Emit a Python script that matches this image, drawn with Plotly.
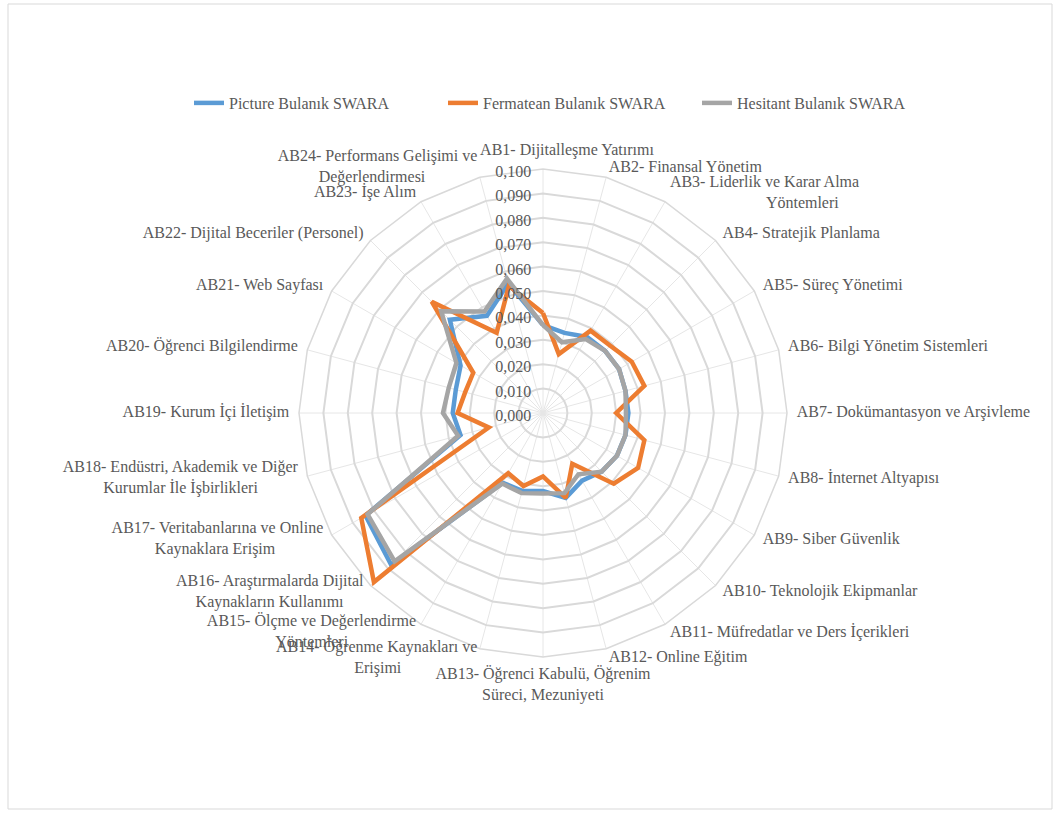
import math
import plotly.graph_objects as go

NB = "\u00a0"

categories = [f"AB{i}" for i in range(1, 25)]
labels = [
    NB * 12 + "AB1- Dijitalleşme Yatırımı",
    "AB2- Finansal Yönetim",
    "AB3- Liderlik ve Karar Alma<br>" + NB * 24 + "Yöntemleri",
    "AB4- Stratejik Planlama",
    "AB5- Süreç Yönetimi",
    "AB6- Bilgi Yönetim Sistemleri",
    "AB7- Dokümantasyon ve Arşivleme",
    "AB8- İnternet Altyapısı",
    "AB9- Siber Güvenlik",
    "AB10- Teknolojik Ekipmanlar",
    "AB11- Müfredatlar ve Ders İçerikleri",
    "AB12- Online Eğitim",
    "AB13- Öğrenci Kabulü, Öğrenim<br>Süreci, Mezuniyeti",
    "AB14- Öğrenme Kaynakları ve<br>Erişimi" + NB * 19,
    "AB15- Ölçme ve Değerlendirme<br>Yöntemleri" + NB * 17,
    "AB16- Araştırmalarda Dijital<br>Kaynakların Kullanımı" + NB * 5,
    "AB17- Veritabanlarına ve Online<br>Kaynaklara Erişim" + NB * 12,
    "AB18- Endüstri, Akademik ve Diğer<br>Kurumlar İle İşbirlikleri" + NB * 10,
    "AB19- Kurum İçi İletişim",
    "AB20- Öğrenci Bilgilendirme",
    "AB21- Web Sayfası",
    "AB22- Dijital Beceriler (Personel)",
    "AB23- İşe Alım",
    "AB24- Performans Gelişimi ve<br>Değerlendirmesi" + NB * 13,
]

picture = [0.036, 0.034, 0.036, 0.036, 0.036, 0.035, 0.035, 0.035, 0.035, 0.034, 0.032, 0.036,
           0.032, 0.033, 0.033, 0.088, 0.084, 0.035, 0.037, 0.037, 0.039, 0.054, 0.046, 0.055]
fermatean = [0.041, 0.025, 0.039, 0.039, 0.042, 0.043, 0.030, 0.043, 0.045, 0.041, 0.024, 0.036,
             0.026, 0.031, 0.0285, 0.098, 0.086, 0.023, 0.035, 0.033, 0.033, 0.0645, 0.038, 0.054]
hesitant = [0.036, 0.030, 0.035, 0.036, 0.036, 0.035, 0.034, 0.035, 0.035, 0.034, 0.029, 0.034,
            0.033, 0.034, 0.0334, 0.086, 0.083, 0.036, 0.041, 0.040, 0.041, 0.059, 0.048, 0.057]

series = [
    ("Picture Bulanık SWARA", picture, "#5B9BD5"),
    ("Fermatean Bulanık SWARA", fermatean, "#ED7D31"),
    ("Hesitant Bulanık SWARA", hesitant, "#A5A5A5"),
]

W, H = 1059, 814
cx, cy, R = 543, 413, 244
R_MAX = 0.1
LABEL_R = 0.104      # category labels sit just outside the outer ring
LABEL_RANGE = 0.105  # range of the overlay subplot that carries the labels


def domain(radius_px):
    return dict(x=[(cx - radius_px) / W, (cx + radius_px) / W],
                y=[1 - (cy + radius_px) / H, 1 - (cy - radius_px) / H])


fig = go.Figure()
for name, vals, col in series:
    fig.add_trace(go.Scatterpolar(
        r=vals + vals[:1], theta=categories + categories[:1],
        mode="lines", name=name,
        line=dict(color=col, width=4.5),
    ))

# category labels placed through an overlay polar subplot, aligned by their direction
n = len(categories)
positions = []
for i in range(n):
    a = math.radians(90 - 360 / n * i)
    c, s = math.cos(a), math.sin(a)
    if abs(c) < 0.1:
        positions.append("top center" if s > 0 else "bottom center")
    elif c > 0:
        positions.append("middle right")
    else:
        positions.append("middle left")

fig.add_trace(go.Scatterpolar(
    r=[LABEL_R] * n, theta=categories, mode="text", text=labels, subplot="polar2",
    textposition=positions, cliponaxis=False, showlegend=False, hoverinfo="skip",
    textfont=dict(family="Liberation Serif, Times New Roman, serif", size=16, color="#595959"),
))

font_fam = "Liberation Serif, Times New Roman, serif"
fig.update_layout(
    width=W, height=H,
    margin=dict(l=0, r=0, t=0, b=0),
    paper_bgcolor="white",
    separators=",.",
    font=dict(family=font_fam, size=16, color="#595959"),
    showlegend=True,
    legend=dict(orientation="h", x=570 / W, xanchor="center", y=1 - 103 / H, yanchor="middle",
                entrywidth=209, entrywidthmode="pixels",
                font=dict(size=16, color="#595959"), bgcolor="rgba(0,0,0,0)"),
    polar=dict(
        domain=domain(R),
        gridshape="linear",
        bgcolor="white",
        radialaxis=dict(range=[0, R_MAX], dtick=0.01, tickformat=".3f", angle=90,
                        side="counterclockwise", showline=False, ticks="",
                        gridcolor="#D9D9D9", gridwidth=1.5,
                        tickfont=dict(size=16, color="#595959")),
        angularaxis=dict(type="category", direction="clockwise", rotation=90,
                         categoryorder="array", categoryarray=categories,
                         showticklabels=False, ticks="",
                         showline=True, linecolor="#D9D9D9", linewidth=1.5,
                         gridcolor="#E6E6E6", gridwidth=1),
    ),
    polar2=dict(
        domain=domain(R * LABEL_RANGE / R_MAX),
        gridshape="linear",
        bgcolor="rgba(0,0,0,0)",
        radialaxis=dict(range=[0, LABEL_RANGE], visible=False, showgrid=False),
        angularaxis=dict(type="category", direction="clockwise", rotation=90,
                         categoryorder="array", categoryarray=categories,
                         showticklabels=False, ticks="", showline=False, showgrid=False),
    ),
    shapes=[dict(type="rect", xref="paper", yref="paper",
                 x0=8 / W, x1=1052 / W, y0=1 - 809 / H, y1=1 - 4 / H,
                 line=dict(color="#D9D9D9", width=1), fillcolor="rgba(0,0,0,0)", layer="below")],
)

fig.write_html("out.html")
